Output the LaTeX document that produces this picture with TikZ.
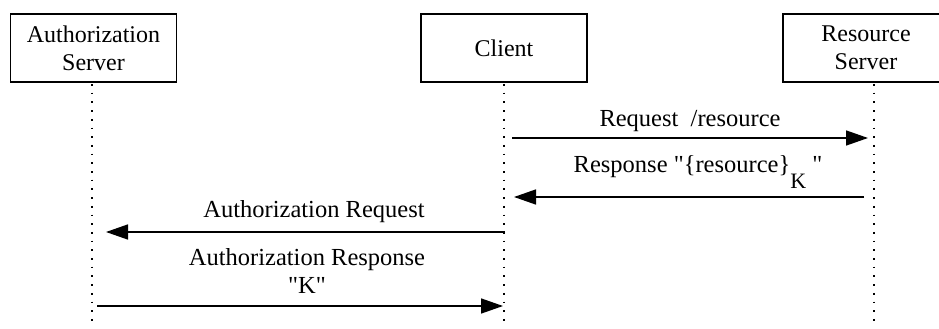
\documentclass[tikz,border=0pt]{standalone}
\usepackage{fontspec}
\setmainfont{Liberation Serif}[Ligatures=TeXOff]
\usetikzlibrary{arrows.meta}

\begin{document}
\begin{tikzpicture}[x=1pt,y=-1pt,>={Triangle[length=22pt,width=15pt]}]
  \tikzstyle{actorbox}=[draw,line width=1.3pt,minimum width=166pt,minimum height=68pt,
    inner sep=0pt,align=center,font=\fontsize{24}{28}\selectfont]
  \tikzstyle{lifeline}=[line width=1.7pt,dash pattern=on 1.7pt off 7pt]
  \tikzstyle{msg}=[->,line width=1.5pt]
  \tikzstyle{msglabel}=[anchor=base,inner sep=0pt,align=center,
    font=\fontsize{24.5}{28}\selectfont]
  \clip (0,0) rectangle (939,329);
  % participants
  \node[actorbox] (authsrv) at (93.5,48) {Authorization\\Server};
  \node[actorbox] (client) at (504,48) {Client};
  \node[actorbox,minimum width=176pt] (ressrv) at (871,48) {\hspace*{-10pt}Resource\\\hspace*{-10pt}Server};
  % lifelines
  \coordinate (authtop) at (92,84);   \coordinate (authbot) at (92,323);
  \coordinate (clienttop) at (504,84); \coordinate (clientbot) at (504,323);
  \coordinate (restop) at (874,84);   \coordinate (resbot) at (874,323);
  \draw[lifeline] (authtop)--(authbot);
  \draw[lifeline] (clienttop)--(clientbot);
  \draw[lifeline] (restop)--(resbot);
  % messages
  \coordinate (reqA) at (512,138);  \coordinate (reqB) at (868,138);
  \coordinate (respA) at (864,197); \coordinate (respB) at (514,197);
  \coordinate (areqA) at (505,232); \coordinate (areqB) at (106,232);
  \coordinate (arespA) at (97,306); \coordinate (arespB) at (503,306);
  \draw[msg] (reqA)--(reqB);
  \draw[msg] (respA)--(respB);
  \draw[msg] (areqA)--(areqB);
  \draw[msg] (arespA)--(arespB);
  \node[msglabel] (reqlbl) at (690,126) {Request\ \ /resource};
  \node[msglabel] (resplbl) at (698,172) {Response "\{resource\}\raisebox{-16pt}{\fontsize{22}{24}\selectfont K} "};
  \node[msglabel] (areqlbl) at (314,217) {Authorization Request};
  \node[msglabel] (aresplbl) at (307,293) {Authorization Response\\"K"};
\end{tikzpicture}
\end{document}
